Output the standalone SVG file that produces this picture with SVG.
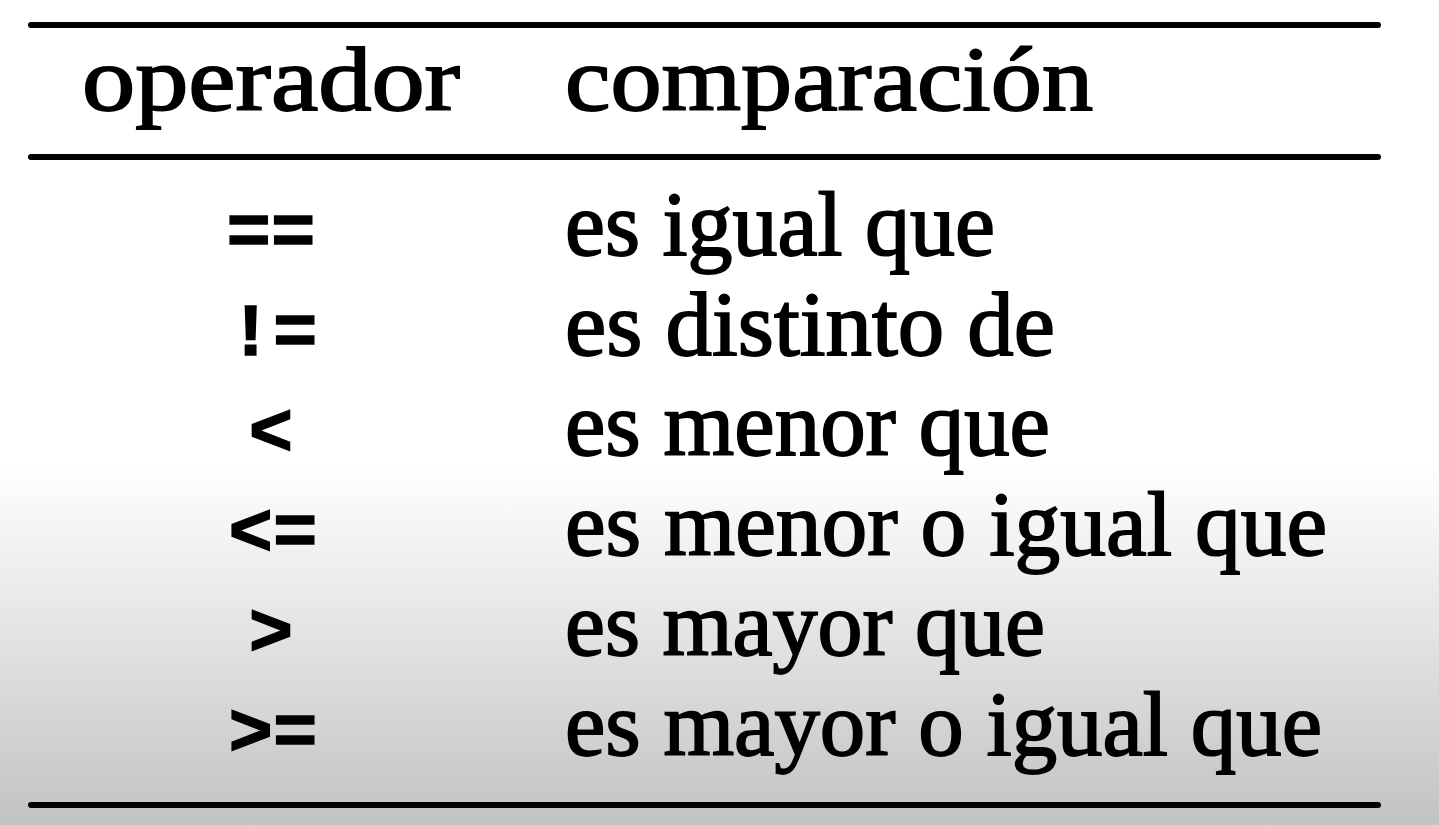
<svg xmlns="http://www.w3.org/2000/svg" width="1439" height="825" viewBox="0 0 1439 825">
<defs>
<linearGradient id="bg" x1="0" y1="0" x2="0" y2="1">
<stop offset="0" stop-color="#ffffff"/>
<stop offset="0.56" stop-color="#ffffff"/>
<stop offset="0.75" stop-color="#e6e6e6"/>
<stop offset="1" stop-color="#c2c2c2"/>
</linearGradient>
<style>
.rule{stroke:#000;stroke-width:6;stroke-linecap:round}
.txt{font-family:"Liberation Serif","DejaVu Serif",serif;font-size:92px;fill:#000;stroke:#000;stroke-width:1.8}
.op{font-family:"Liberation Mono","DejaVu Sans Mono",monospace;font-weight:bold;font-size:74px;fill:#000;stroke:#000;stroke-width:1.5;text-anchor:middle}
</style>
</defs>
<rect x="0" y="0" width="1439" height="825" fill="url(#bg)"/>
<g id="rules">
<line class="rule" x1="31" y1="25" x2="1378" y2="25"/>
<line class="rule" x1="31" y1="157" x2="1378" y2="157"/>
<line class="rule" x1="31" y1="805" x2="1378" y2="805"/>
</g>
<g id="header">
<text class="txt" x="82" y="110" textLength="378" lengthAdjust="spacingAndGlyphs">operador</text>
<text class="txt" x="565" y="110" textLength="528" lengthAdjust="spacingAndGlyphs">comparación</text>
</g>
<g id="row1">
<text class="op" x="271" y="255">==</text>
<text class="txt" x="565" y="255" textLength="430" lengthAdjust="spacingAndGlyphs">es igual que</text>
</g>
<g id="row2">
<text class="op" x="273" y="355">!=</text>
<text class="txt" x="565" y="355" textLength="490" lengthAdjust="spacingAndGlyphs">es distinto de</text>
</g>
<g id="row3">
<text class="op" x="271" y="455">&lt;</text>
<text class="txt" x="565" y="455" textLength="485" lengthAdjust="spacingAndGlyphs">es menor que</text>
</g>
<g id="row4">
<text class="op" x="273" y="555">&lt;=</text>
<text class="txt" x="565" y="555" textLength="762" lengthAdjust="spacingAndGlyphs">es menor o igual que</text>
</g>
<g id="row5">
<text class="op" x="271" y="655">&gt;</text>
<text class="txt" x="565" y="655" textLength="480" lengthAdjust="spacingAndGlyphs">es mayor que</text>
</g>
<g id="row6">
<text class="op" x="273" y="755">&gt;=</text>
<text class="txt" x="565" y="755" textLength="757" lengthAdjust="spacingAndGlyphs">es mayor o igual que</text>
</g>
</svg>
